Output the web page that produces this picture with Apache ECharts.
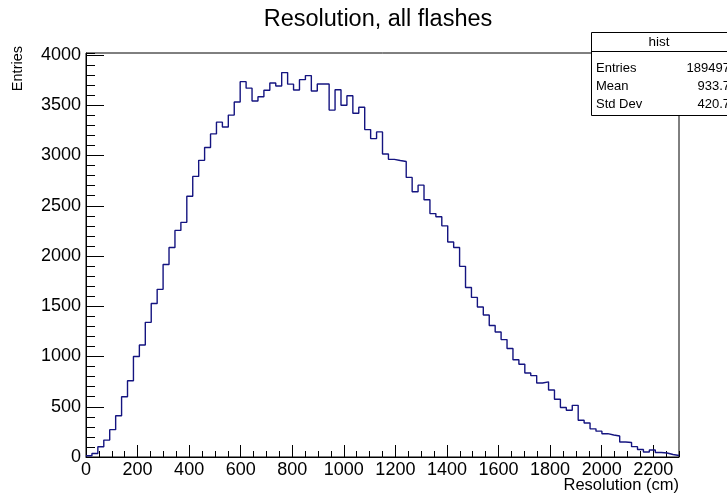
<!DOCTYPE html>
<html><head><meta charset="utf-8">
<script src="https://cdn.jsdelivr.net/npm/echarts@6/dist/echarts.min.js"></script>
<style>html,body{margin:0;padding:0;background:#fff}#c{width:727px;height:493px}</style>
</head><body><div id="c"></div>
<script>
const chartTitle = 'Resolution, all flashes';
const xAxisTitle = 'Resolution (cm)';
const yAxisTitle = 'Entries';
const binLow = 0;
const binHigh = 2300;
const counts = [
  13, 35, 102, 168, 272, 410, 600, 758, 1000, 1115,
  1340, 1528, 1668, 1915, 2085, 2255, 2335, 2595, 2792, 2952,
  3080, 3215, 3332, 3283, 3402, 3532, 3735, 3670, 3543, 3585,
  3650, 3722, 3692, 3825, 3710, 3652, 3755, 3795, 3642, 3712,
  3712, 3452, 3655, 3500, 3595, 3420, 3480, 3258, 3168, 3235,
  3015, 2962, 2950, 2940, 2782, 2640, 2705, 2560, 2422, 2390,
  2300, 2140, 2085, 1897, 1686, 1588, 1493, 1413, 1308, 1244,
  1168, 1080, 968, 923, 836, 810, 736, 748, 666, 575,
  492, 465, 514, 365, 338, 280, 257, 232, 219, 209,
  149, 144, 103, 74, 50, 70, 45, 40, 25, 15
];
const yMax = 4020;
const xMajorStep = 200, xMinorStep = 50;
const yMajorStep = 500, yMinorStep = 100;
const statsName = 'hist';
const statsLabels = ['Entries', 'Mean', 'Std Dev'];
const statsValues = ['189497', '933.7', '420.7'];

const binW = (binHigh - binLow) / counts.length;
const pts = counts.map((v, i) => [binLow + i * binW, v]);
pts.push([binHigh, counts[counts.length - 1]]);

const FONT = '"Liberation Sans", Arial, sans-serif';
const fmtX = v => (Math.abs(v % xMajorStep) < 1e-6 ? String(v) : '');
const fmtY = v => (Math.abs(v % yMajorStep) < 1e-6 ? String(v) : '');

const chart = echarts.init(document.getElementById('c'), null, {renderer: 'canvas'});
const statTop = 32, rowH = 18.3;
const graphics = [
  {type: 'text', x: 378, y: 20, style: {text: chartTitle, fontSize: 23.5, fontFamily: FONT, fill: '#000', textAlign: 'center', textVerticalAlign: 'middle'}, z: 10},
  {type: 'text', x: 679, y: 485, style: {text: xAxisTitle, fontSize: 16.5, fontFamily: FONT, fill: '#000', textAlign: 'right', textVerticalAlign: 'middle'}, z: 10},
  {type: 'text', x: 18, y: 46, rotation: Math.PI / 2, style: {text: yAxisTitle, fontSize: 14.5, fontFamily: FONT, fill: '#000', textAlign: 'right', textVerticalAlign: 'middle'}, z: 10},
  {type: 'rect', shape: {x: 591.5, y: statTop + 0.5, width: 140, height: 83}, style: {fill: '#fff', stroke: '#000', lineWidth: 1}, z: 20},
  {type: 'line', shape: {x1: 591.5, y1: statTop + 19.5, x2: 727, y2: statTop + 19.5}, style: {stroke: '#000', lineWidth: 1}, z: 21},
  {type: 'text', x: 659, y: statTop + 10, style: {text: statsName, fontSize: 13.5, fontFamily: FONT, fill: '#000', textAlign: 'center', textVerticalAlign: 'middle'}, z: 22}
];
statsLabels.forEach((s, i) => {
  graphics.push({type: 'text', x: 596, y: statTop + 36 + i * rowH, style: {text: s, fontSize: 13, fontFamily: FONT, fill: '#000', textAlign: 'left', textVerticalAlign: 'middle'}, z: 22});
  graphics.push({type: 'text', x: 730, y: statTop + 36 + i * rowH, style: {text: statsValues[i], fontSize: 13, fontFamily: FONT, fill: '#000', textAlign: 'right', textVerticalAlign: 'middle'}, z: 22});
});

const axisTextStyle = {color: '#000', fontSize: 18, fontFamily: FONT};
chart.setOption({
  animation: false,
  backgroundColor: '#fff',
  grid: {left: 86, right: 48, top: 53, bottom: 36, show: true, borderColor: '#000', borderWidth: 1, containLabel: false},
  xAxis: [
    {type: 'value', position: 'bottom', min: binLow, max: binHigh, interval: xMajorStep,
     axisLine: {show: true, lineStyle: {color: '#000', width: 1}},
     axisTick: {show: true, inside: true, length: 12, lineStyle: {color: '#000'}},
     axisLabel: {show: true, margin: 4, formatter: fmtX, showMaxLabel: false, ...axisTextStyle},
     splitLine: {show: false}},
    {type: 'value', position: 'bottom', min: binLow, max: binHigh, interval: xMinorStep,
     axisLine: {show: false},
     axisTick: {show: true, inside: true, length: 6, lineStyle: {color: '#000'}},
     axisLabel: {show: false}, splitLine: {show: false}}
  ],
  yAxis: [
    {type: 'value', position: 'left', min: 0, max: yMax, interval: yMajorStep,
     axisLine: {show: true, lineStyle: {color: '#000', width: 1}},
     axisTick: {show: true, inside: true, length: 18, lineStyle: {color: '#000'}},
     axisLabel: {show: true, margin: 5, formatter: fmtY, showMaxLabel: false, ...axisTextStyle},
     splitLine: {show: false}},
    {type: 'value', position: 'left', min: 0, max: yMax, interval: yMinorStep,
     axisLine: {show: false},
     axisTick: {show: true, inside: true, length: 9, lineStyle: {color: '#000'}},
     axisLabel: {show: false}, splitLine: {show: false}}
  ],
  series: [{
    type: 'line', xAxisIndex: 0, yAxisIndex: 0, step: 'end', data: pts,
    showSymbol: false, symbol: 'none',
    lineStyle: {color: '#141480', width: 1.4}, z: 5
  }],
  graphic: graphics
});
</script></body></html>
